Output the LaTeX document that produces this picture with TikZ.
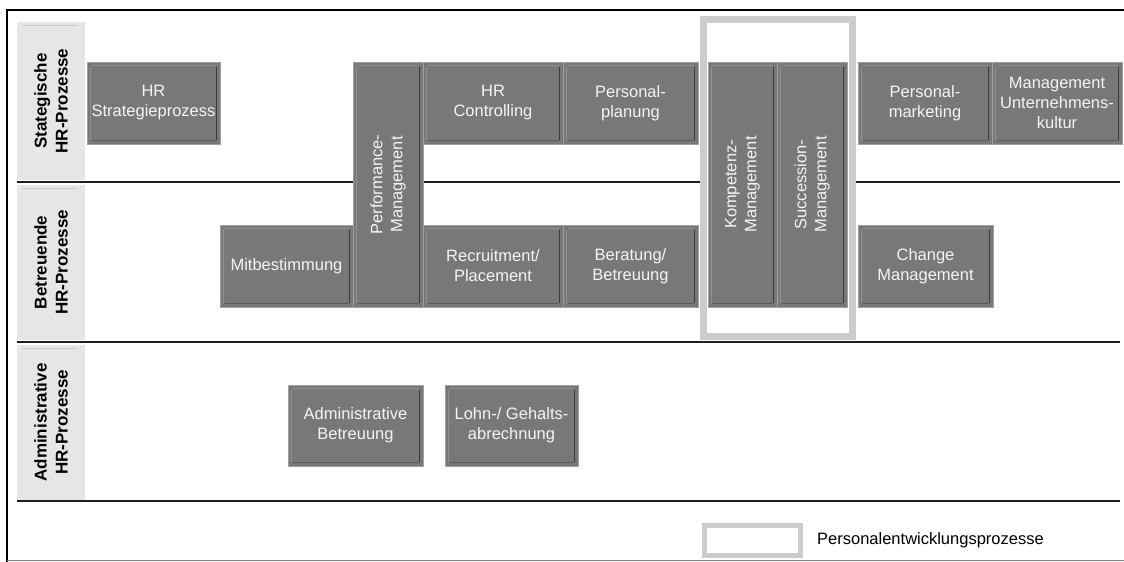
\documentclass[tikz,border=0pt]{standalone}
\usepackage{fontspec}
\setmainfont{Liberation Sans}
\definecolor{boxfill}{HTML}{787878}
\definecolor{boxedge}{HTML}{A0A0A0}
\definecolor{bevlt}{HTML}{929292}
\definecolor{bevdk}{HTML}{3A3A3A}
\definecolor{bevmd}{HTML}{5A5A5A}
\definecolor{labfill}{HTML}{E6E6E6}
\definecolor{labline}{HTML}{C8C8C8}
\definecolor{framegray}{HTML}{CCCCCC}
\definecolor{txtwhite}{HTML}{F4F4F4}
\definecolor{sepcol}{HTML}{1E1E1E}
\tikzset{
  pbox/.style={draw=boxedge, line width=1pt, fill=boxfill, inner sep=0pt,
    text=txtwhite, align=center, font=\fontsize{16.5}{20}\selectfont},
  vtext/.style={rotate=90, text=txtwhite, align=center, inner sep=0pt,
    font=\fontsize{16.5}{20}\selectfont},
  bevlight/.style={draw=bevlt, line width=1pt},
  bevdark/.style={draw=bevdk, line width=1.2pt},
  bevmid/.style={draw=bevmd, line width=1.2pt},
  labbox/.style={fill=labfill, draw=none, inner sep=0pt},
  labtext/.style={rotate=90, align=center, inner sep=0pt, text=black,
    font=\fontsize{17}{21}\selectfont\bfseries},
  sepline/.style={draw=sepcol, line width=2pt},
  pframe/.style={draw=framegray, line width=7pt, fill=white},
  legtext/.style={anchor=west, inner sep=0pt, text=black,
    font=\fontsize{16.5}{20}\selectfont},
}
\newcommand\procbox[6]{%
  \node[pbox, minimum width={#4-#2}, minimum height={#5-#3}] (#1)
    at ({(#2+#4)/2},{(#3+#5)/2}) {#6};
  \draw[bevlight] ([shift={(5pt,-4pt)}]#1.north west) -- ([shift={(-5pt,-4pt)}]#1.north east);
  \draw[bevlight] ([shift={(4pt,-5pt)}]#1.north west) -- ([shift={(4pt,5pt)}]#1.south west);
  \draw[bevdark] ([shift={(-4pt,-5pt)}]#1.north east) -- ([shift={(-4pt,5pt)}]#1.south east);
  \draw[bevmid] ([shift={(5pt,4pt)}]#1.south west) -- ([shift={(-5pt,4pt)}]#1.south east);
}
\begin{document}
\begin{tikzpicture}[x=1pt,y=-1pt]
\useasboundingbox (0,0) rectangle (1124,562);
\fill[white] (0,0) rectangle (1124,562);
% row labels
\node[labbox, minimum width=68, minimum height=158] (labA) at (51,101) {};
\node[labbox, minimum width=68, minimum height=155] (labB) at (51,262.5) {};
\node[labbox, minimum width=68, minimum height=155] (labC) at (51,422.5) {};
\draw[labline, line width=1pt] (22,25) -- (78,25);
\draw[labline, line width=1pt] (22,188) -- (78,188);
\draw[labline, line width=1pt] (22,348) -- (78,348);
\node[labtext] (labAt) at (labA.center) {Stategische\\HR-Prozesse};
\node[labtext] (labBt) at (labB.center) {Betreuende\\HR-Prozesse};
\node[labtext] (labCt) at (labC.center) {Administrative\\HR-Prozesse};
% frame lines
\draw[black, line width=2.5pt] (7,562) -- (7,10) -- (1124,10);
\draw[gray, line width=1pt] (7,560.5) -- (1124,560.5);
\draw[sepline] (17,181.5) -- (1120,181.5);
\draw[sepline] (17,341.5) -- (1120,341.5);
\draw[sepline] (17,500.5) -- (1120,500.5);
% Personalentwicklung frame
\draw[pframe] (703.5,19.5) rectangle (852.5,336.5);
% boxes
\procbox{strat}{87}{62}{220}{144}{HR\\Strategieprozess}
\procbox{perf}{353}{62}{423}{307}{}
\node[vtext] (perft) at (perf.center) {Performance-\\Management};
\procbox{hrc}{423}{62}{563}{144}{HR\\Controlling}
\procbox{pplan}{563}{62}{698}{144}{Personal-\\planung}
\procbox{komp}{708}{62}{777}{307}{}
\node[vtext] (kompt) at (komp.center) {Kompetenz-\\Management};
\procbox{succ}{777}{62}{847}{307}{}
\node[vtext] (succt) at (succ.center) {Succession-\\Management};
\procbox{pmark}{858}{62}{992}{144}{Personal-\\marketing}
\procbox{mgmt}{992}{62}{1122}{144}{Management\\Unternehmens-\\kultur}
\procbox{mitb}{220}{225}{353}{307}{Mitbestimmung}
\procbox{recr}{423}{225}{563}{307}{Recruitment/\\Placement}
\procbox{berat}{563}{225}{698}{307}{Beratung/\\Betreuung}
\procbox{change}{858}{225}{993}{307}{Change\\Management}
\procbox{admin}{288}{385}{423}{466}{Administrative\\Betreuung}
\procbox{lohn}{445}{385}{578}{466}{Lohn-/ Gehalts-\\abrechnung}
% legend
\draw[draw=framegray, line width=5pt, fill=white] (704.5,525) rectangle (800.5,555);
\coordinate (legbox) at (752.5,540);
\node[legtext] (legt) at (817,540) {Personalentwicklungsprozesse};
\end{tikzpicture}
\end{document}
